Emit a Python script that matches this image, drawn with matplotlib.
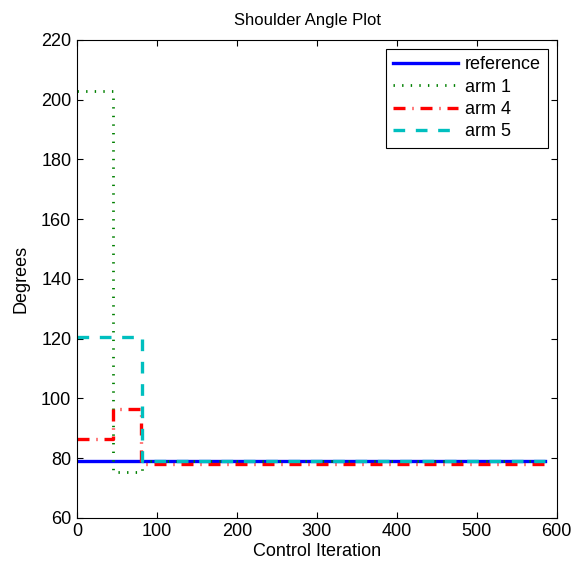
import matplotlib
matplotlib.use("Agg")
import matplotlib.pyplot as plt

plt.rcParams['font.family'] = ['Liberation Sans', 'DejaVu Sans']
plt.rcParams['font.size'] = 13

# step change points (control iteration) and held values (degrees)
ref_x = [0, 585]
ref_y = [79, 79]
arm1_x = [0, 45, 82, 585]
arm1_y = [203, 75.5, 79, 79]
arm4_x = [0, 45, 80, 585]
arm4_y = [86.5, 96.5, 78, 78]
arm5_x = [0, 82, 585]
arm5_y = [120.5, 79, 79]

fig = plt.figure(figsize=(5.74, 5.71), dpi=100)
ax = fig.add_axes([0.134, 0.093, 0.836, 0.837])

ax.plot(ref_x, ref_y, color='#0000ff', lw=2.4, drawstyle='steps-post', label='reference')
ax.plot(arm1_x, arm1_y, color='#008000', lw=2, ls=(0, (0.5, 2.6)), drawstyle='steps-post', label='arm 1')
ax.plot(arm4_x, arm4_y, color='#ff0000', lw=2.4, ls=(0, (3.6, 2.1, 0.3, 2.1)), drawstyle='steps-post', label='arm 4')
ax.plot(arm5_x, arm5_y, color='#00bfbf', lw=2.4, ls=(0, (3.5, 3.2)), drawstyle='steps-post', label='arm 5')

ax.set_xlim(0, 600)
ax.set_ylim(60, 220)
ax.set_xticks(range(0, 601, 100))
ax.set_yticks(range(60, 221, 20))
ax.tick_params(direction='in', top=True, right=True, length=4, labelsize=13, pad=4)
ax.set_xlabel('Control Iteration', fontsize=13, labelpad=2)
ax.set_ylabel('Degrees', fontsize=13, labelpad=8)
ax.set_title('Shoulder Angle Plot', fontsize=12, pad=11, x=0.48)

leg = ax.legend(loc='upper right', fancybox=False, edgecolor='black', framealpha=1,
                handlelength=3.6, handletextpad=0.35, borderaxespad=0.5,
                labelspacing=0.3, borderpad=0.4, fontsize=13)
leg.get_frame().set_linewidth(0.8)

fig.savefig('out.png', dpi=100)
